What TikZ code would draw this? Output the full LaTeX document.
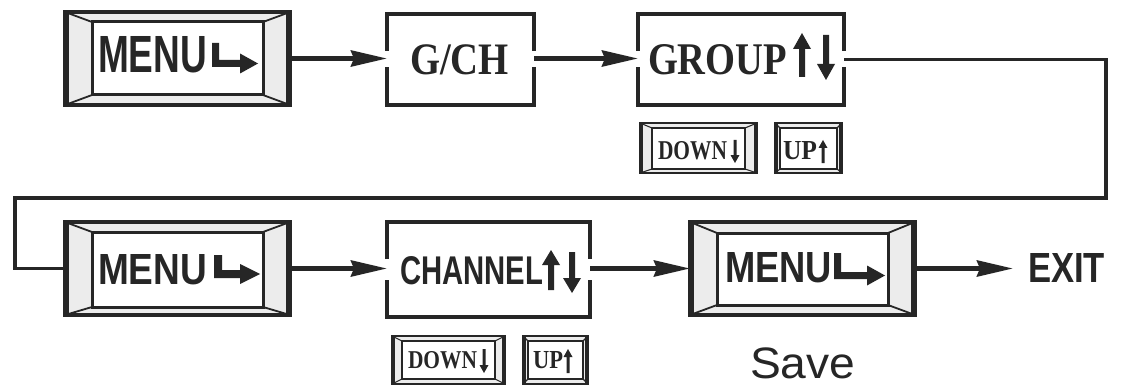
\documentclass[tikz,border=0pt]{standalone}
\usepackage{fontspec}
\setmainfont{Liberation Serif}
\setsansfont{Liberation Sans}
\usetikzlibrary{arrows.meta,fit,calc}
\definecolor{ink}{HTML}{262626}
\definecolor{bevelfill}{HTML}{ECECEC}

% bevelled key: name, x1, y1, x2, y2, side bevel, top bevel, bottom bevel, line factor
\newcommand{\bevel}[9]{%
  \fill[bevelfill] (#2,#3) rectangle (#4,#5);
  \fill[white] ({#2+#6},{#3+#7}) rectangle ({#4-#6},{#5-#8});
  \draw[ink, line width=#9*1.8pt] (#2,#3) -- ({#2+#6},{#3+#7}) (#4,#3) -- ({#4-#6},{#3+#7})
     (#2,#5) -- ({#2+#6},{#5-#8}) (#4,#5) -- ({#4-#6},{#5-#8});
  \draw[ink, line width=#9*3pt] ({#2+#6},{#3+#7}) rectangle ({#4-#6},{#5-#8});
  \draw[ink, line width=#9*3.5pt] ({#2+2.5*#9},#3) -- ({#2+2.5*#9},#5) ({#4-2.5*#9},#3) -- ({#4-2.5*#9},#5);
  \node[draw=ink, line width=#9*3.5pt, inner sep=0pt, outer sep=0pt, fit={(#2,#3) (#4,#5)}] (#1) {};
}
% open box with gaps on both sides: name, x1, y1, x2, y2, gap top, gap bottom
\newcommand{\bbox}[7]{%
  \node[inner sep=0pt, outer sep=0pt, fit={(#2,#3) (#4,#5)}] (#1) {};
  \draw[boxline] (#2,#6) -- (#2,#3) -- (#4,#3) -- (#4,#6);
  \draw[boxline] (#4,#7) -- (#4,#5) -- (#2,#5) -- (#2,#7);
}
% arrow glyphs
\newcommand{\uparr}[6]{% cx top bottom shaft headw headl
  \fill[ink] ({#1-#4/2},#3) -- ({#1-#4/2},{#2+#6}) -- ({#1-#5/2},{#2+#6}) -- (#1,#2)
    -- ({#1+#5/2},{#2+#6}) -- ({#1+#4/2},{#2+#6}) -- ({#1+#4/2},#3) -- cycle;}
\newcommand{\dnarr}[6]{% cx top bottom shaft headw headl
  \fill[ink] ({#1-#4/2},#2) -- ({#1-#4/2},{#3-#6}) -- ({#1-#5/2},{#3-#6}) -- (#1,#3)
    -- ({#1+#5/2},{#3-#6}) -- ({#1+#4/2},{#3-#6}) -- ({#1+#4/2},#2) -- cycle;}
\newcommand{\bent}[7]{% x0 top bottom tip thickness headlength headhalf
  \fill[ink] (#1,#2) -- ({#1+#5},#2) -- ({#1+#5},{#3-#5}) -- ({#4-#6},{#3-#5})
    -- ({#4-#6},{#3-#5/2-#7}) -- (#4,{#3-#5/2}) -- ({#4-#6},{#3-#5/2+#7})
    -- ({#4-#6},#3) -- (#1,#3) -- cycle;}

\begin{document}
\begin{tikzpicture}[x=1pt,y=-1pt,
  boxline/.style={draw=ink, line width=3.5pt, line join=miter},
  flow/.style={draw=ink, line width=4.5pt, -{Stealth[length=36pt,width=16pt,inset=3pt]}},
  link/.style={draw=ink, line width=3.5pt},
  txt/.style={inner sep=0pt, outer sep=0pt, text=ink}]
\useasboundingbox[fill=white] (0,0) rectangle (1124,385);

% keys
\bevel{m1}{65}{12}{290}{105}{27}{10}{10}{1}
\bevel{m2}{65}{222}{290}{315}{27}{10}{8}{1}
\bevel{m3}{690}{222}{915}{315}{27}{11}{10}{1}
\bevel{d1}{640}{123}{757}{173}{12}{5}{4}{0.6}
\bevel{u1}{775}{123}{842}{173}{5}{5}{4}{0.6}
\bevel{d2}{392}{336}{505}{384}{10}{5}{5}{0.6}
\bevel{u2}{523}{336}{588}{384}{5}{5}{5}{0.6}

% open boxes
\bbox{gch}{387}{14}{534}{105}{51}{67}
\bbox{grp}{638}{14}{844}{105}{51}{67}
\bbox{ch}{387}{222}{590}{317}{259}{280}

% texts
\node[txt, anchor=south west] (t1) at (98,73) {\resizebox{109pt}{36pt}{\sffamily\bfseries MENU}};
\bent{212}{43}{67}{258}{7}{18}{10}
\node[txt, anchor=base west] (t2) at (410,75) {\scalebox{0.86}[1]{\fontsize{45}{45}\selectfont\bfseries G/CH}};
\node[txt, anchor=south west] (t3) at (648,75) {\resizebox{139pt}{30pt}{\bfseries GROUP}};
\uparr{802}{33}{77}{6}{18}{16}
\dnarr{826}{35}{80}{6}{18}{16}
\node[txt, anchor=south west] (t4) at (658,160) {\resizebox{69pt}{18pt}{\bfseries DOWN}};
\dnarr{735}{140}{163}{3}{9}{8}
\node[txt, anchor=south west] (t5) at (783,160) {\resizebox{34pt}{18pt}{\bfseries UP}};
\uparr{823}{140}{163}{3}{9}{8}

\node[txt, anchor=south west] (t6) at (98,285) {\resizebox{109pt}{30pt}{\sffamily\bfseries MENU}};
\bent{214}{255}{278}{260}{8}{20}{10}
\node[txt, anchor=south west] (t7) at (400,285) {\resizebox{143pt}{28pt}{\sffamily\bfseries CHANNEL}};
\uparr{551}{250}{290}{6}{18}{15}
\dnarr{572}{252}{293}{6}{18}{15}
\node[txt, anchor=south west] (t8) at (408,369) {\resizebox{69pt}{17pt}{\bfseries DOWN}};
\dnarr{484}{349}{373}{3}{9}{8}
\node[txt, anchor=south west] (t9) at (533,369) {\resizebox{30pt}{17pt}{\bfseries UP}};
\uparr{568}{349}{373}{3}{9}{8}

\node[txt, anchor=south west] (t10) at (725,283) {\resizebox{107pt}{30pt}{\sffamily\bfseries MENU}};
\bent{834}{253}{279}{885}{7}{18}{10}
\node[txt, anchor=south west] (exit) at (1028,282) {\resizebox{77pt}{29pt}{\sffamily\bfseries EXIT}};
\node[txt, anchor=base west] (save) at (750,378) {\scalebox{1.05}[1]{\fontsize{44}{44}\selectfont\sffamily Save}};

% connectors
\draw[flow] (m1.east) -- (m1.east -| gch.west);
\draw[flow] (gch.east |- m1.east) -- (m1.east -| grp.west);
\coordinate (c1) at (1106,198);
\coordinate (c2) at (15,198);
\draw[link] (grp.east) -| (c1) -- (c2) |- (m2.west);
\draw[flow] (m2.east) -- (m2.east -| ch.west);
\draw[flow] (ch.east |- m2.east) -- (m2.east -| m3.west);
\draw[flow, shorten >=15pt] (m3.east) -- (m3.east -| exit.west);
\end{tikzpicture}
\end{document}
